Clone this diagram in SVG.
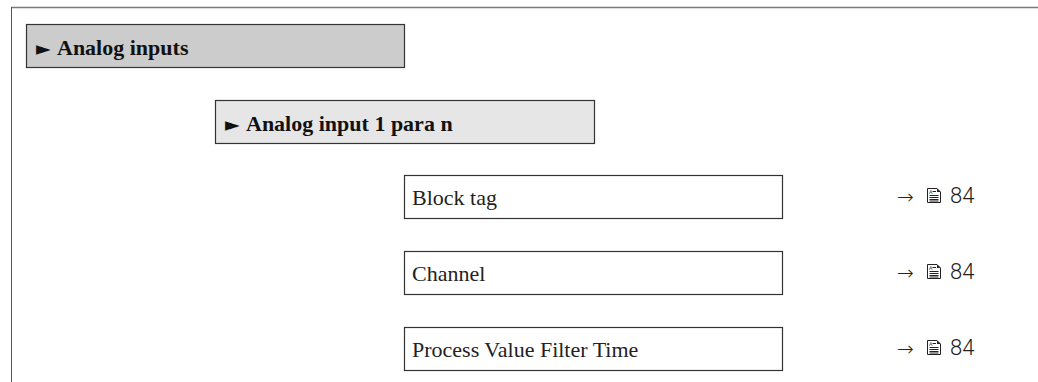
<svg xmlns="http://www.w3.org/2000/svg" width="1038" height="382" viewBox="0 0 1038 382">
<style>
.frame{fill:none;stroke:#7a7a7a;stroke-width:1.5}
.box{stroke:#333;stroke-width:1.2}
.t{font-family:"Liberation Serif",serif;font-size:22px;fill:#222}
.tb{font-family:"Liberation Serif",serif;font-size:22px;font-weight:bold;fill:#111}
.tri{font-family:"DejaVu Sans",sans-serif;font-size:19px;font-weight:normal}
.ref{font-family:Roboto,"DejaVu Sans",sans-serif;font-weight:300;font-size:22px;fill:#222}
.arr{font-family:"DejaVu Sans ExtraLight","DejaVu Sans",sans-serif;font-weight:200;font-size:20px;fill:#222}
.ic{fill:none;stroke:#222;stroke-width:1}
</style>
<defs>
<g id="doc">
<path class="ic" d="M1.5,0.5 H11 L14.5,4 V14.5 H1.5 Z"/>
<path d="M11,0.5 L14.5,4 H11 Z" fill="#222"/>
<path class="ic" d="M3.5,7.5 H12.5 M3.5,9.5 H12.5 M3.5,11.5 H12.5 M3.5,13 H12.5"/>
<text x="3" y="5.5" font-family="DejaVu Sans,sans-serif" font-size="5" fill="#222">A</text>
<path class="ic" d="M6.5,3.5 H10"/>
</g>
</defs>
<g id="frame">
<line class="frame" x1="11" y1="7.5" x2="1038" y2="7.5"/>
<line x1="11.5" y1="7" x2="11.5" y2="382" stroke="#555" stroke-width="1"/>
</g>
<g id="analog-inputs">
<rect class="box" x="26.5" y="24.5" width="378" height="43" fill="#cccccc"/>
<text class="tb" x="36" y="55"><tspan class="tri">►</tspan><tspan x="57">Analog inputs</tspan></text>
</g>
<g id="analog-input-1">
<rect class="box" x="215.5" y="100.5" width="379" height="43" fill="#e6e6e6"/>
<text class="tb" x="225" y="131"><tspan class="tri">►</tspan><tspan x="246">Analog input 1 para n</tspan></text>
</g>
<g id="block-tag">
<rect class="box" x="404.5" y="175.5" width="378" height="43" fill="#fff"/>
<text class="t" x="412" y="205">Block tag</text>
</g>
<g id="channel">
<rect class="box" x="404.5" y="251.5" width="378" height="43" fill="#fff"/>
<text class="t" x="412" y="281">Channel</text>
</g>
<g id="pvft">
<rect class="box" x="404.5" y="327.5" width="378" height="43" fill="#fff"/>
<text class="t" x="412" y="357">Process Value Filter Time</text>
</g>
<g id="refs">
<text class="arr" x="897" y="204">→</text>
<use href="#doc" x="926" y="188"/>
<text class="ref" x="950" y="203">84</text>
<text class="arr" x="897" y="280">→</text>
<use href="#doc" x="926" y="264"/>
<text class="ref" x="950" y="279">84</text>
<text class="arr" x="897" y="356">→</text>
<use href="#doc" x="926" y="340"/>
<text class="ref" x="950" y="355">84</text>
</g>
</svg>
